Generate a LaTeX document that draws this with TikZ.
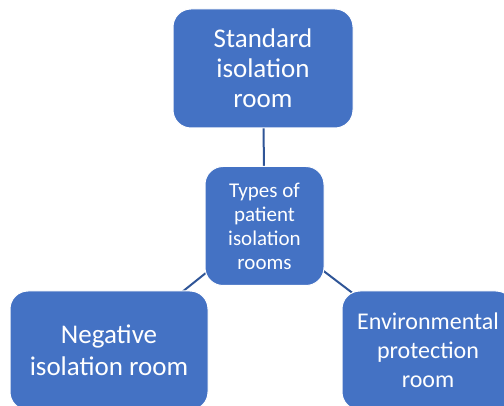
\documentclass[tikz,border=0pt]{standalone}
\usepackage{fontspec}
\setmainfont{Carlito}
\usetikzlibrary{backgrounds}
\definecolor{boxblue}{HTML}{4472C4}
\definecolor{linkblue}{RGB}{47,85,151}
\begin{document}
\begin{tikzpicture}[x=1pt,y=-1pt,
  roombox/.style={draw=white, line width=1pt, fill=boxblue, rounded corners=18pt,
    text=white, align=center, inner sep=0pt, outer sep=0pt},
  link/.style={draw=linkblue, line width=2pt}]
\useasboundingbox (0,0) rectangle (504,406);
\clip (0,0) rectangle (504,406);
\node[roombox, minimum width=180pt, minimum height=119pt,
  font=\fontsize{27}{30}\selectfont] (top) at (263,68.5) {Standard\\isolation\\room};
\node[roombox, minimum width=119pt, minimum height=119pt,
  font=\fontsize{21}{24}\selectfont] (hub) at (264.5,226) {Types of\\patient\\isolation\\rooms};
\node[roombox, minimum width=198pt, minimum height=119pt,
  font=\fontsize{27}{32}\selectfont] (neg) at (109,350.5) {Negative\\isolation room};
\node[roombox, minimum width=172pt, minimum height=119pt,
  font=\fontsize{24}{29}\selectfont] (env) at (428,350.5) {Environmental\\protection\\room};
\begin{scope}[on background layer]
\draw[link] (hub.center) -- (top.center);
\draw[link] (hub.center) -- (neg.center);
\draw[link] (hub.center) -- (env.center);
\end{scope}
\end{tikzpicture}
\end{document}
